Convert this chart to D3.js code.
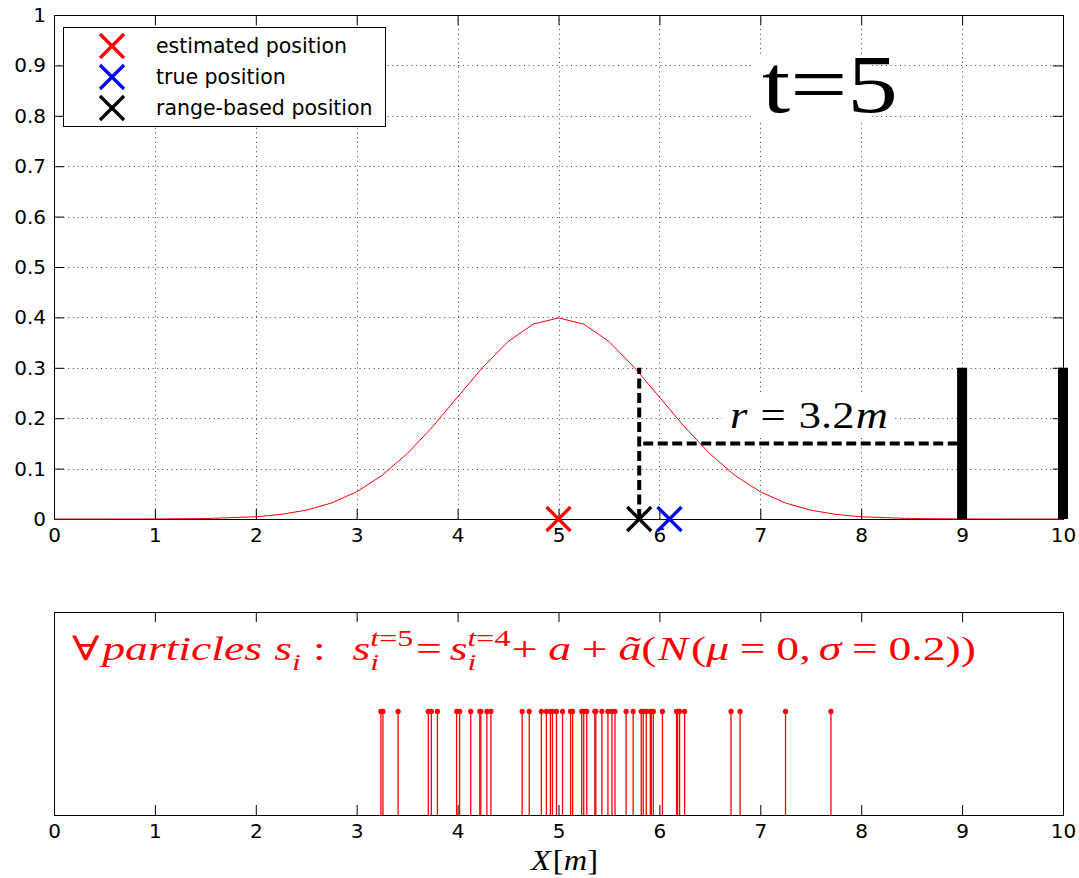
<!DOCTYPE html>
<html>
<head>
<meta charset="utf-8">
<script src="https://cdn.jsdelivr.net/npm/d3@7"></script>
<style>
  html, body { margin: 0; padding: 0; background: #fff; }
  svg { display: block; }
</style>
</head>
<body>
<svg id="fig" width="1079" height="878"></svg>
<script>
// ---- data ---------------------------------------------------------------
// Belief density over the robot position X [m]
const beliefX = [0, 0.5, 1, 1.5, 2, 2.25, 2.5, 2.75, 3, 3.25, 3.5, 3.75, 4, 4.25, 4.5, 4.75,
                 5, 5.25, 5.5, 5.75, 6, 6.25, 6.5, 6.75, 7, 7.25, 7.5, 7.75, 8, 8.5, 9, 9.5, 10];
const beliefY = [0.0000, 0.0000, 0.0001, 0.0009, 0.0044, 0.0091, 0.0175, 0.0317, 0.0540, 0.0863,
                 0.1295, 0.1826, 0.2420, 0.3011, 0.3521, 0.3867, 0.3989, 0.3867, 0.3521, 0.3011,
                 0.2420, 0.1826, 0.1295, 0.0863, 0.0540, 0.0317, 0.0175, 0.0091, 0.0044, 0.0009,
                 0.0001, 0.0000, 0.0000];

const estimatedPos = 5.0;
const truePos = 6.1;
const rangePos = 5.8;
const beaconX = [9, 10];
const beaconHeight = 0.3;
const rangeLineY = 0.15;
const rangeLabel = "3.2";

// Particle positions after the motion update
const particleX = [3.24, 3.26, 3.41, 3.71, 3.74, 3.80, 3.99, 4.02, 4.13, 4.22, 4.23, 4.29,
                   4.33, 4.64, 4.71, 4.83, 4.88, 4.92, 4.94, 4.98, 5.04, 5.12, 5.14, 5.23,
                   5.25, 5.28, 5.36, 5.37, 5.43, 5.49, 5.53, 5.56, 5.67, 5.74, 5.82, 5.84,
                   5.87, 5.91, 5.92, 5.94, 6.03, 6.17, 6.18, 6.20, 6.25, 6.71, 6.80, 7.25, 7.70];

const xTicks = [0, 1, 2, 3, 4, 5, 6, 7, 8, 9, 10];
const yTicks = [0, 0.1, 0.2, 0.3, 0.4, 0.5, 0.6, 0.7, 0.8, 0.9, 1];
const legendLabels = ["estimated position", "true position", "range-based position"];
const legendColors = ["#ff0000", "#0000ff", "#000000"];

// ---- layout -------------------------------------------------------------
const svg = d3.select("#fig");
const SANS = "DejaVu Sans, Liberation Sans, Arial, sans-serif";
const SERIF = "Liberation Serif, Times New Roman, serif";
const L = 54, R = 1063;
const topBox = { t: 15, b: 519 };
const botBox = { t: 612, b: 815 };
const TICK = 10;

const x = d3.scaleLinear().domain([0, 10]).range([L, R]);
const y = d3.scaleLinear().domain([0, 1]).range([topBox.b, topBox.t]);
const yP = d3.scaleLinear().domain([0, 0.04]).range([botBox.b, botBox.t]);

// stretch a group horizontally so its ink spans [left, left+width]
function fitWidth(g, left, width) {
  const bb = g.node().getBBox();
  const s = width / bb.width;
  g.attr("transform", `translate(${left},0) scale(${s},1) translate(${-bb.x},0)`);
}

// lay out a row of math pieces (runs with italic/upright segments, sub/superscripts)
function mathRow(parent, parts, baseline, fs, color) {
  const g = parent.append("g").attr("fill", color);
  let cx = 0;
  function run(px, py, segs, size, fam) {
    const t = g.append("text").attr("x", px).attr("y", py)
      .attr("font-family", fam || SERIF).attr("font-size", size);
    segs.forEach(([s, it]) => t.append("tspan").text(s)
      .attr("font-style", it ? "italic" : "normal"));
    return t.node().getComputedTextLength();
  }
  parts.forEach(p => {
    cx += (p.gap || 0) * fs / 34;
    if (p.segs) cx += run(cx, baseline, p.segs, fs, p.fam);
    else {
      let w = 0;
      if (p.sub) w = Math.max(w, run(cx, baseline + 0.3 * fs, p.sub, 0.7 * fs));
      if (p.sup) w = Math.max(w, run(cx, baseline - 0.42 * fs, p.sup, 0.7 * fs));
      cx += w;
    }
  });
  return g;
}

// ---- upper axes ---------------------------------------------------------
const upper = svg.append("g");

// dotted grid
const grid = upper.append("g").attr("stroke", "#000").attr("stroke-width", 1)
  .attr("stroke-dasharray", "1,3.7").attr("stroke-opacity", 0.75);
grid.selectAll("line.gx").data(xTicks.filter(d => d > 0 && d < 10)).join("line")
  .attr("x1", d => Math.round(x(d)) + 0.5).attr("x2", d => Math.round(x(d)) + 0.5)
  .attr("y1", topBox.t).attr("y2", topBox.b);
grid.selectAll("line.gy").data(yTicks.filter(d => d > 0 && d < 1)).join("line")
  .attr("y1", d => Math.round(y(d)) + 0.5).attr("y2", d => Math.round(y(d)) + 0.5)
  .attr("x1", L).attr("x2", R);

// frame and inward ticks
function frame(g, t, b, yScale, withY) {
  g.append("rect").attr("x", L + 0.5).attr("y", t + 0.5)
    .attr("width", R - L).attr("height", b - t)
    .attr("fill", "none").attr("stroke", "#000").attr("stroke-width", 1);
  const ax = g.append("g").attr("transform", `translate(0,${b})`)
    .call(d3.axisBottom(x).tickValues(xTicks).tickSize(-TICK).tickPadding(9)
      .tickFormat(d => String(d)));
  const ax2 = g.append("g").attr("transform", `translate(0,${t})`)
    .call(d3.axisTop(x).tickValues(xTicks).tickSize(-TICK).tickFormat(""));
  [ax, ax2].forEach(a => a.select(".domain").remove());
  if (withY) {
    const ay = g.append("g").attr("transform", `translate(${L},0)`)
      .call(d3.axisLeft(yScale).tickValues(yTicks).tickSize(-TICK).tickPadding(8)
        .tickFormat(d => String(d)));
    const ay2 = g.append("g").attr("transform", `translate(${R},0)`)
      .call(d3.axisRight(yScale).tickValues(yTicks).tickSize(-TICK).tickFormat(""));
    [ay, ay2].forEach(a => a.select(".domain").remove());
  }
  g.selectAll(".tick line").attr("stroke", "#000");
  g.selectAll(".tick text").attr("font-family", SANS).attr("font-size", 20).attr("fill", "#000");
}
frame(upper, topBox.t, topBox.b, y, true);

// time-step label with its white background
const tLayer = upper.append("g");
const tBg = tLayer.append("rect").attr("fill", "#fff");
const tText = tLayer.append("g");
tText.append("text").attr("x", 0).attr("y", 112).attr("font-family", SERIF)
  .attr("font-size", 82).attr("fill", "#000").text("t=5");
fitWidth(tText, 762, 136);
tBg.attr("x", 753).attr("y", 57).attr("width", 119).attr("height", 66);

// range label with its white background
const rLayer = upper.append("g");
const rBg = rLayer.append("rect").attr("fill", "#fff");
const rText = mathRow(rLayer, [
  { segs: [["r", 1]] },
  { segs: [["=", 0]], gap: 10 },
  { segs: [[rangeLabel, 0]], gap: 10 },
  { segs: [["m", 1]], gap: 1 }
], 428, 38, "#000");
fitWidth(rText, 730, 158);
rBg.attr("x", 722).attr("y", 395).attr("width", 171).attr("height", 43);

// belief curve
upper.append("path")
  .datum(beliefX.map((d, i) => [d, beliefY[i]]))
  .attr("fill", "none").attr("stroke", "#ff0000").attr("stroke-width", 1)
  .attr("d", d3.line().x(d => x(d[0])).y(d => y(d[1])));

// range measurement construction
const dash = upper.append("g").attr("stroke", "#000").attr("stroke-width", 4)
  .attr("stroke-dasharray", "10,4.5").attr("fill", "none");
dash.append("line").attr("x1", x(rangePos)).attr("x2", x(rangePos))
  .attr("y1", y(0)).attr("y2", y(beaconHeight));
dash.append("line").attr("x1", x(rangePos) + 4).attr("x2", x(beaconX[0]))
  .attr("y1", y(rangeLineY)).attr("y2", y(rangeLineY));

// beacons
upper.selectAll("line.beacon").data(beaconX).join("line")
  .attr("x1", d => x(d)).attr("x2", d => x(d))
  .attr("y1", y(0)).attr("y2", y(beaconHeight))
  .attr("stroke", "#000").attr("stroke-width", 10);

// position markers
const xMark = "M-12,-12L12,12M-12,12L12,-12";
const marks = [estimatedPos, truePos, rangePos];
upper.selectAll("path.mk").data(marks).join("path")
  .attr("d", xMark)
  .attr("transform", d => `translate(${x(d)},${y(0)})`)
  .attr("stroke", (d, i) => legendColors[i]).attr("stroke-width", 3.3).attr("fill", "none");

// legend
const lg = upper.append("g");
lg.append("rect").attr("x", 63.5).attr("y", 27.5).attr("width", 322).attr("height", 99)
  .attr("fill", "#fff").attr("stroke", "#000").attr("stroke-width", 1);
legendLabels.forEach((lab, i) => {
  const cy = 46 + i * 31;
  lg.append("path").attr("d", xMark).attr("transform", `translate(112,${cy})`)
    .attr("stroke", legendColors[i]).attr("stroke-width", 3.3).attr("fill", "none");
  lg.append("text").attr("x", 156).attr("y", cy + 7).attr("font-family", SANS)
    .attr("font-size", 20.5).attr("fill", "#000").text(lab);
});

// ---- lower axes: particles ----------------------------------------------
const lower = svg.append("g");
frame(lower, botBox.t, botBox.b, yP, false);

const weight = 1 / particleX.length;
lower.selectAll("line.stem").data(particleX).join("line")
  .attr("x1", d => x(d)).attr("x2", d => x(d))
  .attr("y1", yP(0)).attr("y2", yP(weight))
  .attr("stroke", "#ff0000").attr("stroke-width", 1.3);
lower.selectAll("circle.p").data(particleX).join("circle")
  .attr("cx", d => x(d)).attr("cy", yP(weight)).attr("r", 2.6).attr("fill", "#ff0000");

// motion-update formula
const formula = mathRow(lower, [
  { segs: [["∀", 0]], fam: "DejaVu Serif, serif" },
  { segs: [["particles", 1]], gap: 2 },
  { segs: [["s", 1]], gap: 9 },
  { sub: [["i", 1]] },
  { segs: [[":", 0]], gap: 9 },
  { segs: [["s", 1]], gap: 20 },
  { sub: [["i", 1]], sup: [["t", 1], ["=5", 0]] },
  { segs: [["=", 0]], gap: 2 },
  { segs: [["s", 1]], gap: 6 },
  { sub: [["i", 1]], sup: [["t", 1], ["=4", 0]] },
  { segs: [["+", 0]], gap: 1 },
  { segs: [["a", 1]], gap: 8 },
  { segs: [["+", 0]], gap: 8 },
  { segs: [["ã", 1]], gap: 8 },
  { segs: [["(", 0]] },
  { segs: [["N", 1]], gap: 1 },
  { segs: [["(", 0]], gap: 2 },
  { segs: [["μ", 1]] },
  { segs: [["=", 0]], gap: 8 },
  { segs: [["0", 0]], gap: 8 },
  { segs: [[",", 0]] },
  { segs: [["σ", 1]], gap: 6 },
  { segs: [["=", 0]], gap: 8 },
  { segs: [["0.2", 0]], gap: 8 },
  { segs: [["))", 0]] }
], 660, 34, "#ff0000");
fitWidth(formula, 72, 904);

// x-axis title
const xl = mathRow(lower, [
  { segs: [["X", 1]] },
  { segs: [["[", 0]], gap: 2 },
  { segs: [["m", 1]] },
  { segs: [["]", 0]] }
], 870, 30, "#000");
fitWidth(xl, 530, 68);
</script>
</body>
</html>
